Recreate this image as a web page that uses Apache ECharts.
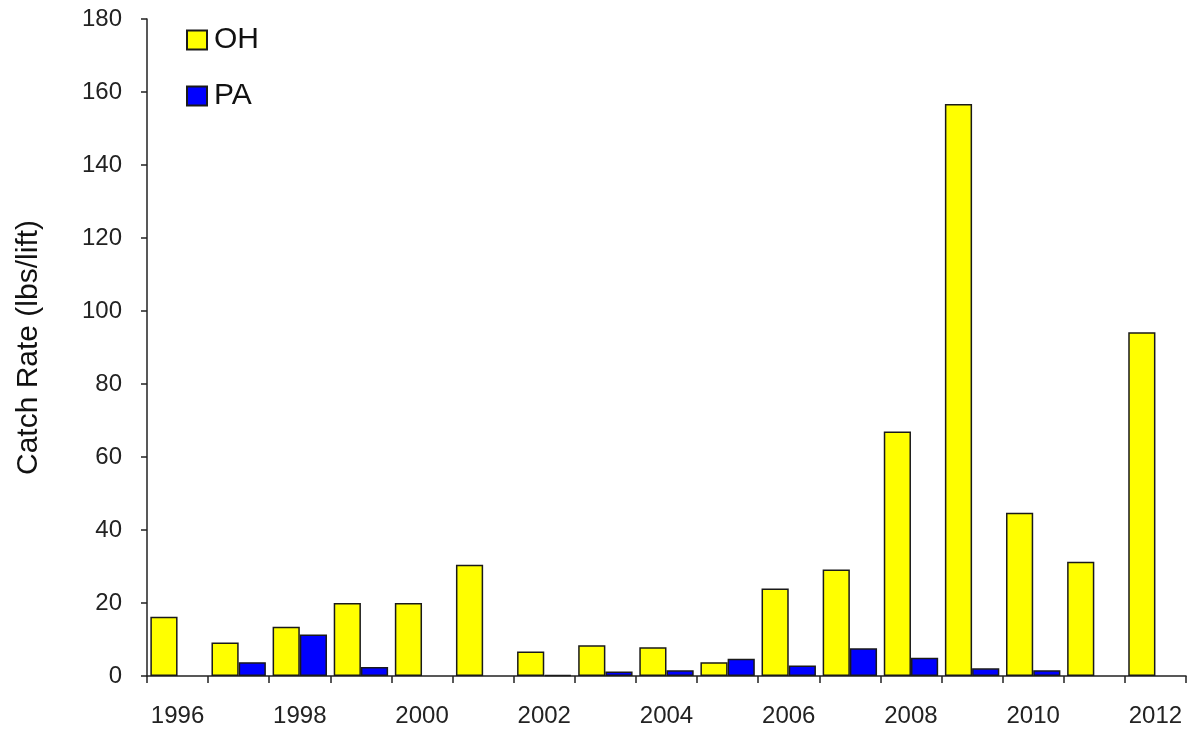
<!DOCTYPE html>
<html>
<head>
<meta charset="utf-8">
<script src="https://cdn.jsdelivr.net/npm/echarts@6/dist/echarts.min.js"></script>
<style>html,body{margin:0;padding:0;background:#fff}#c{width:1193px;height:729px}</style>
</head>
<body>
<div id="c"></div>
<script>
var years = ['1996','1997','1998','1999','2000','2001','2002','2003','2004','2005','2006','2007','2008','2009','2010','2011','2012'];
var ohValues = [16.2, 9.2, 13.5, 20, 20, 30.5, 6.7, 8.4, 7.9, 3.8, 24, 29.2, 67, 156.7, 44.7, 31.3, 94.2];
var paValues = [null, 3.8, 11.4, 2.5, null, null, 0.3, 1.2, 1.6, 4.7, 2.9, 7.6, 5.0, 2.1, 1.6, null, null];
var yTicks = [0, 20, 40, 60, 80, 100, 120, 140, 160, 180];

var chart = echarts.init(document.getElementById('c'));
chart.setOption({
  animation: false,
  backgroundColor: '#fff',
  textStyle: {fontFamily: 'Liberation Sans, Arial, sans-serif'},
  grid: {left: 147, right: 7, top: 19, bottom: 53},
  legend: {
    orient: 'vertical', left: 181, top: 20, itemWidth: 20, itemHeight: 19, itemGap: 26,
    textStyle: {fontSize: 30, color: '#111', fontFamily: 'Liberation Sans, Arial, sans-serif', padding: [0, 0, 0, 2]},
    data: [{name: 'OH', icon: 'rect'}, {name: 'PA', icon: 'rect'}]
  },
  xAxis: {
    type: 'category', data: years, boundaryGap: true,
    axisLine: {lineStyle: {color: '#222', width: 1.5}},
    axisTick: {show: true, interval: 0, length: 7, inside: false, lineStyle: {color: '#222', width: 1.5}},
    axisLabel: {interval: 1, fontSize: 24, color: '#222', margin: 28}
  },
  yAxis: {
    type: 'value', min: yTicks[0], max: yTicks[yTicks.length - 1], interval: 20,
    name: 'Catch Rate (lbs/lift)', nameLocation: 'middle', nameGap: 103,
    nameTextStyle: {fontSize: 30, color: '#111'},
    axisLine: {show: true, lineStyle: {color: '#222', width: 1.5}},
    axisTick: {show: true, length: 6, lineStyle: {color: '#222', width: 1.5}},
    axisLabel: {fontSize: 24, color: '#222', margin: 25},
    splitLine: {show: false}
  },
  series: [
    {name: 'OH', type: 'bar', data: ohValues, barGap: '0%', barCategoryGap: '11%',
     itemStyle: {color: '#ffff00', borderColor: '#1a1a1a', borderWidth: 1.5}},
    {name: 'PA', type: 'bar', data: paValues, barGap: '0%', barCategoryGap: '11%',
     itemStyle: {color: '#0000ff', borderColor: '#1a1a1a', borderWidth: 1.5}}
  ]
});
</script>
</body>
</html>
